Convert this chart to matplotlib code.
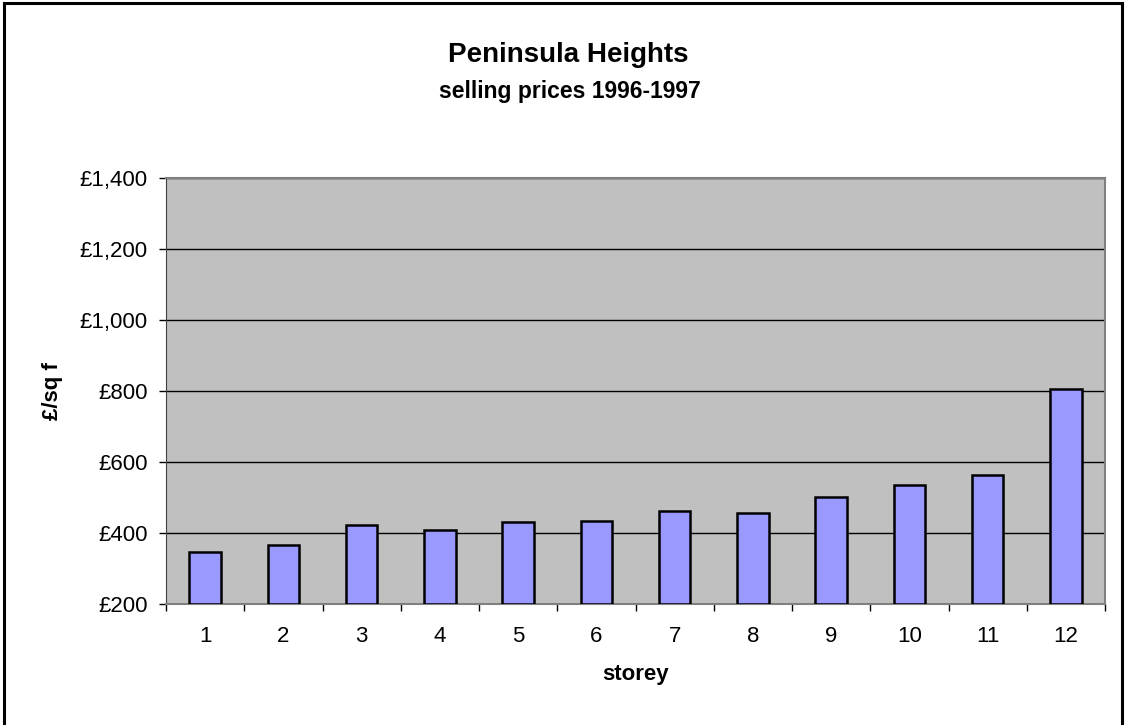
import matplotlib
matplotlib.use("Agg")
import matplotlib.pyplot as plt
from matplotlib.patches import Rectangle

# data
storeys = [1, 2, 3, 4, 5, 6, 7, 8, 9, 10, 11, 12]
price_per_sqft = [346, 365, 423, 408, 431, 434, 461, 455, 501, 534, 564, 807]
y_ticks = [200, 400, 600, 800, 1000, 1200, 1400]
y_tick_labels = ["£200", "£400", "£600", "£800", "£1,000", "£1,200", "£1,400"]

plt.rcParams["font.family"] = ["Liberation Sans", "DejaVu Sans"]

fig = plt.figure(figsize=(11.26, 7.25), dpi=100)
W, H = 1126, 725
ax = fig.add_axes([166 / W, 1 - 604 / H, (1105 - 166) / W, (604 - 178) / H])

ax.set_facecolor("#c0c0c0")
ax.bar(storeys, [p - 200 for p in price_per_sqft], bottom=200, width=0.4,
       color="#9999ff", edgecolor="black", linewidth=1.8, zorder=3)

ax.set_xlim(0.5, 12.5)
ax.set_ylim(200, 1400)
ax.set_yticks(y_ticks)
ax.set_yticklabels(y_tick_labels, fontsize=16)
ax.yaxis.grid(True, color="black", linewidth=1.0, zorder=1)
ax.set_axisbelow(True)

# category labels centred, ticks on the boundaries
ax.set_xticks([x + 0.5 for x in storeys[:-1]] + [0.5, 12.5])
ax.set_xticklabels([])
ax.set_xticks(storeys, minor=True)
ax.set_xticklabels([str(s) for s in storeys], minor=True, fontsize=16)
ax.tick_params(axis="x", which="minor", length=0, pad=16)
ax.tick_params(axis="x", which="major", length=5, color="black", width=1)
ax.tick_params(axis="y", length=5, color="black", width=1, pad=8)

for side in ["top", "right"]:
    ax.spines[side].set_color("#808080")
    ax.spines[side].set_linewidth(1.5)
ax.spines["left"].set_color("#404040")
ax.spines["bottom"].set_color("#808080")
ax.spines["bottom"].set_linewidth(1.5)

ax.set_xlabel("storey", fontsize=16, fontweight="bold", labelpad=12)
ax.set_ylabel("£/sq f", fontsize=16, fontweight="bold", labelpad=12)

# Excel centres the title on the whole chart area
fig.text(568 / W, 1 - 62 / H, "Peninsula Heights", ha="center", va="baseline",
         fontsize=20, fontweight="bold")
fig.text(570 / W, 1 - 98 / H, "selling prices 1996-1997", ha="center", va="baseline",
         fontsize=16.5, fontweight="bold")

# outer chart border
fig.patches.append(Rectangle((4 / W, -0.01), (1122 - 4) / W, 1 - 3 / H + 0.01,
                             transform=fig.transFigure, fill=False,
                             edgecolor="black", linewidth=2.2))

fig.savefig("out.png", dpi=100)
